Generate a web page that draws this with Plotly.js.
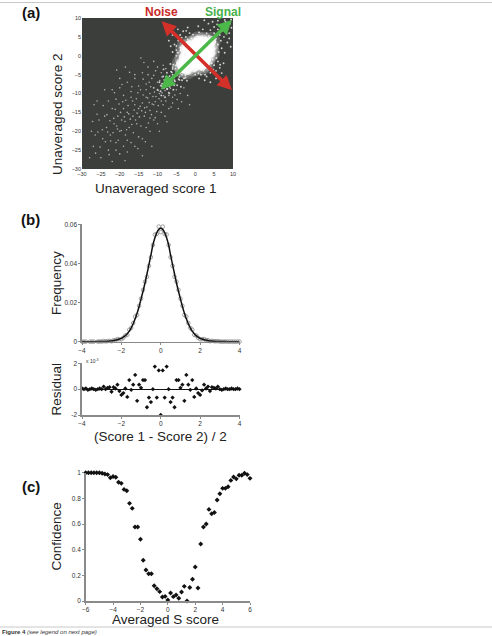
<!DOCTYPE html>
<html>
<head>
<meta charset="utf-8">
<script src="https://cdn.plot.ly/plotly-3.0.1.min.js"></script>
<style>
  html, body { margin: 0; padding: 0; background: #fff; }
  #fig { width: 492px; height: 636px; }
</style>
</head>
<body>
<div id="fig"></div>
<script>
// ---------- (a) unaveraged score pairs ----------
// dense centre of the cloud
const corePts = [
  [0,0],[1,0.5],[-1,-0.5],[0.5,1.5],[-0.5,-1.5],[2,1],[-2,-1],[1,2.5],[-1,-2.2],[2.5,2.5],
  [-1.5,1],[1.5,-1],[0,2],[0,-2],[2,0],[-2,0.3],[3,1.8],[1.8,3],[-2.5,-2],[-1.8,-2.6],
  [3.2,0],[0.2,3.3],[-3,-0.5],[-0.3,-3],[2.8,-1.5],[-1.5,2.8],[3.5,3],[2.2,3.8],[3.8,2.2],
  [-2.8,1.8],[1.7,-2.7],[0.8,-0.8],[-0.8,0.8],[1.2,1.2],[-1.2,-1.2],[0.4,-0.3],[-0.4,0.3],
  [2.4,-0.4],[-0.4,2.4],[4,0.8],[0.8,4],[-3.3,-2.8],[4.2,3.8],[-2,2],[2,-2.1],[3,3.2],
  [-2.9,-3.4],[0.6,2.9],[2.9,0.6],[1.4,3.4],[3.4,1.4],[-1,1.8],[1.8,-1],[-2.2,-3.8],[-3.8,-2.2]
];
// speckled halo around the centre
const haloPts = [
  [-4,-3],[-5,-4.5],[-3.5,-5],[-6,-5],[-5.5,-6.5],[-7,-6],[-6.5,-7.5],[-8,-7],[-7.5,-8.8],[-9,-8],
  [-4.5,-2],[-2,-4.5],[-6,-3.5],[-3.5,-6.5],[-7.5,-4.5],[-4.8,-7.8],[-8.5,-5.5],[-5.8,-9],[-9.5,-7],
  [-7,-9.8],[-3,-3.8],[-4.2,-5.6],[-5.2,-3.4],[-6.8,-8.2],[-8.2,-6.4],[-2.6,-5.8],[-5.8,-2.4],
  [-3.8,-8.2],[-8.4,-3.6],[-10,-9],[-9,-10.5],[-11,-8.5],[-8,-11],
  [-3,3.5],[-4.5,4],[-4,5.5],[-5.5,3],[-2.5,5],[-6,5.5],[-3.2,6.5],[-5,1.5],[-6.5,2.5],[-1.5,6],
  [-7,4],[-4.6,7],[-2,7.5],
  [3.5,-3],[4,-4.5],[5.5,-4],[3,-5.5],[5,-2.5],[5.5,-6],[6.5,-3.2],[1.5,-5],[2.5,-6.5],[6,-1.5],
  [4,-7],[7,-4.6],[7.5,-2],
  [4.5,5],[5.5,4.5],[5,6],[6.5,5.5],[6,7],[7,6.5],[7.5,8],[8.5,7],[8,9],[9.2,8.5],[4,6.8],[6.8,4],
  [5.8,8.3],[8.3,5.8],[9.5,9.6],[3.5,8.5],[8.5,3.5],[7,2],[2,7],[9,6],[6,9.3],[4.8,3],[3,4.8],
  [5.2,1.8],[1.8,5.2],[7.8,9.5],[9.6,7.4],
  [-3.8,-1],[-1,-3.8],[-2.5,-3.5],[-3.5,-2.5],[-4.5,-4],[-4,-4.5],[3.8,1],[1,3.8],[4.5,2.5],
  [2.5,4.5],[4.6,-1],[-1,4.6],[-3.5,0.5],[0.5,-3.5],[-2.2,3.5],[3.5,-2.2],
  [-4.2,-1.8],[-1.8,-4.2],[-5.2,-2.6],[-2.6,-5.2],[-6.2,-4.4],[-4.4,-6.2],[-6.8,-5.4],[-5.4,-6.8],
  [-7.6,-6.6],[-6.6,-7.6],[-3.4,-4.4],[-4.4,-3.4],[-5.6,-5.6],[-7.2,-7.2],[-8.6,-8.6],[-4.8,-5.2],
  [-6.2,-6],[-3,-6],[-6,-3],[-2.2,-6.6],[-6.6,-2.2],[-4,2.2],[2.2,-4],[-5,0],[0,-5],[-4.6,0.8],
  [0.8,-4.6],[-3.2,2.8],[2.8,-3.2],[-6,1],[1,-6],[4.4,-2],[-2,4.4],[5.6,-0.6],[-0.6,5.6],
  [4.8,-3.6],[-3.6,4.8],[5.2,3.6],[3.6,5.2],[6,3],[3,6],[6.2,1],[1,6.2],[4.2,4.2],[5.6,5.6],
  [7.2,7.2],[8.4,8.4],[6.4,8],[8,6.4],[7.6,5],[5,7.6],[4.4,1.6],[1.6,4.4],[-2.8,-2.8],[-3.6,-3.6],
  [-7.8,-5.6],[-5.6,-7.8],[-9.2,-9.4],[-8.8,-7.4],[-7.4,-8.8],[-6.4,-4.2],[-4.2,-6.4],[2.6,-5],
  [-5,2.6],[6.6,-2.4],[-2.4,6.6],[7.8,0.8],[0.8,7.8],[9,4.6],[4.6,9],[9.4,2.4],[2.4,9.4]
];
// sparse tail towards low scores
const tailPts = [
  [-9,-12],[-10,-7],[-11,-13],[-12,-10],[-12,-14.5],[-13,-11],[-13.5,-16],[-14,-12.5],[-14.5,-9],
  [-15,-14],[-15.5,-18],[-16,-13],[-16.5,-16],[-17,-11],[-17.5,-19],[-18,-15],[-18.5,-21],[-19,-14],
  [-19.5,-17],[-20,-20],[-20.5,-16],[-21,-23],[-21.5,-18],[-22,-14],[-22.5,-21],[-23,-25],[-23.5,-19],
  [-24,-16],[-24.5,-22],[-25,-27],[-26,-12],[-26.5,-21],[-27,-24],[-25.5,-17],
  [-10.5,-4],[-11.5,-6],[-12.5,-5],[-13,-7.5],[-14,-4.5],[-15,-8],[-16,-6],[-17,-9.5],[-18,-7],
  [-19,-10.5],[-20,-8.5],[-21,-11.5],[-22,-9],[-23,-12],
  [-7,-14],[-8,-16],[-9,-15],[-10,-18],[-11,-17],[-12,-20],[-13,-19],[-14,-22],[-15,-21.5],[-16,-24],
  [-17,-23],[-18,-25.5],[-19,-24],[-20,-26],[-21,-25],
  [-6,-11],[-7,-10.5],[-8.5,-13],[-9.5,-10],[-10.2,-14.8],[-11.8,-8.2],[-12.2,-12.4],[-13.4,-13.8],
  [-14.8,-16.2],[-15.6,-11.4],[-16.8,-18.2],[-17.8,-13.2],[-18.6,-17.4],[-19.6,-19.8],[-20.8,-18.6],
  [-21.8,-20.4],[-22.6,-17.2],[-23.8,-22.8],[-24.6,-19.6],[-25.2,-24.2],[-26.4,-25.8],
  [-5,-9],[-4,-10],[-3,-8.5],[-9,-4.5],[-10,-3],[-8.5,-2.5],[-2,-10.5],[-11,-1.5],[-6,-12.5],
  [-12.5,-3],[-13.6,-1.8],[-1.5,-13],[-4.5,-14],[-7.5,-17.5],[-9.5,-20],[-14,-26.5],[-11.5,-24],
  [-16,-5],[-18.5,-3],[-20,-6],[-24,-9],[-26,-15.5],[-27.5,-20],[-28,-27],[-22,-28],[-26.8,-13],
  [-12,-16.5],[-13,-9],[-14.2,-14.6],[-15.4,-15.2],[-16.2,-14.4],[-17.2,-16.8],[-18.2,-19.6],
  [-19.2,-12.2],[-20.4,-22.4],[-21.2,-14.2],[-9.8,-9.2],[-11.2,-10.8],[-10.6,-12.2],[-8.8,-9.8],
  [-7.8,-12],[-6.6,-8.6],[-5.6,-7.4],[-7.2,-5.8],[-8.2,-8.6],[-9.4,-6.6],[-6.4,-13.6],[-15.2,-24.6],
  [-23.4,-15.6],[-13.2,-22.8],
  [-8.4,-10.6],[-9.6,-11.4],[-10.8,-9.6],[-11.4,-12.8],[-12.6,-11.2],[-13.8,-10.4],[-12.8,-13.6],
  [-10.4,-10.8],[-9.2,-7.8],[-8,-9.2],[-7.4,-7.2],[-6.8,-10],[-11.6,-15.6],[-13.2,-15],[-14.6,-13.4],
  [-15.8,-17],[-16.6,-12],[-17.6,-15.4],[-18.8,-16.2],[-19.8,-15],[-20.6,-19.4],[-21.6,-16.6],
  [-22.4,-22.6],[-23.2,-20.2],[-9.8,-13.2],[-10.6,-16.4],[-12.4,-17.8],[-14.4,-18.6],[-16.4,-20.4],
  [-18,-22.4],[-11,-5.2],[-12.2,-7],[-13.8,-6.2],[-15.2,-9.8],[-16.8,-8.2],[-18.4,-11.8],[-20.2,-12.8],
  [-7.8,-3.4],[-8.8,-5.6],[-6.2,-6.6],[-5.4,-10.4],[-4.8,-11.6],[-3.6,-12.2],[-17.4,-4.4],[-19.4,-7.6],
  [-21.4,-9.8],[-24.4,-13.2],[-25.8,-20.2],[-22.8,-26.2],[-18.6,-27.8],[-27.2,-17.4],[-20.8,-3.8],
  [-14.4,-0.6]
];
// double-headed direction arrows: [start, end]
const noiseArrow  = [[-9.3, 9.5], [9.7, -9.1]];
const signalArrow = [[-9.5, -9.3], [9.7, 9.5]];
const scoreTicks = [-30, -25, -20, -15, -10, -5, 0, 5, 10];

// ---------- (b) distribution of (score1 - score2)/2 ----------
const halfDiff = [];             // bin centres -4 .. 4, step 0.1
for (let i = -40; i <= 40; i++) halfDiff.push(i / 10);
const fitFreq = [
  0.00001,0.00001,0.00001,0.00001,0.00002,0.00002,0.00003,0.00004,0.00005,0.00006,
  0.00008,0.0001,0.00015,0.0002,0.0003,0.0004,0.0006,0.0008,0.0010,0.0014,
  0.0017,0.0023,0.0031,0.0041,0.0054,0.0071,0.0092,0.0117,0.0146,0.0180,
  0.0219,0.0258,0.0300,0.0346,0.0394,0.0442,0.0494,0.0530,0.0557,0.0574,
  0.0580,
  0.0574,0.0557,0.0530,0.0494,0.0442,0.0394,0.0346,0.0300,0.0258,0.0219,
  0.0180,0.0146,0.0117,0.0092,0.0071,0.0054,0.0041,0.0031,0.0023,0.0017,
  0.0014,0.0010,0.0008,0.0006,0.0004,0.0003,0.0002,0.00015,0.0001,0.00008,
  0.00006,0.00005,0.00004,0.00003,0.00002,0.00002,0.00001,0.00001,0.00001,0.00001
];
// residuals, units of 1e-3
const residual = [
  0.05,0.0,0.05,-0.05,0.0,0.05,0.0,-0.05,0.0,0.05,
  0.0,0.2,0.0,0.1,0.15,-0.2,0.15,0.05,0.35,-0.15,
  -0.45,-0.3,0.05,-0.6,0.7,-0.05,0.35,1.1,-0.9,0.35,
  0.1,0.7,0.7,-1.4,-0.65,-1.0,0.0,1.75,-0.65,1.45,
  -2.0,
  1.45,-0.65,1.75,0.0,-1.0,-0.65,-1.4,0.7,0.7,0.1,
  0.35,-0.9,1.1,0.35,-0.05,0.7,-0.6,0.05,-0.3,-0.45,
  -0.1,0.35,0.05,0.2,-0.15,0.15,0.1,0.05,0.2,0.0,
  -0.05,0.0,0.05,0.0,0.0,0.05,0.0,0.0,0.05,0.0
];

// ---------- (c) confidence vs averaged S score ----------
const avgS = [];                 // -6 .. 6, step 0.2
for (let i = -30; i <= 30; i++) avgS.push(i / 5);
const confidence = [
  1.0,1.0,1.0,1.0,1.0,1.0,0.995,0.99,0.985,0.96,
  0.97,0.964,0.925,0.917,0.87,0.86,0.761,0.722,0.577,0.577,
  0.481,0.317,0.242,0.213,0.213,0.119,0.096,0.073,0.031,0.036,
  0.008,
  0.062,0.034,0.047,0.021,0.07,0.114,0.0,0.105,0.169,0.265,
  0.101,0.444,0.577,0.60,0.714,0.68,0.69,0.787,0.836,0.878,
  0.878,0.891,0.94,0.967,0.952,0.98,0.98,0.995,0.985,0.956
];

const FONT = 'Liberation Sans, Arial, Helvetica, sans-serif';
const W = 492, H = 636;
const px = v => v / W;          // pixel -> paper x
const py = v => 1 - v / H;      // pixel -> paper y

const xs = pts => pts.map(p => p[0]);
const ys = pts => pts.map(p => p[1]);

const observed = fitFreq.map((f, i) => f + residual[i] * 1e-3);

const traces = [
  { type: 'scatter', mode: 'markers', xaxis: 'x', yaxis: 'y',
    x: xs(tailPts), y: ys(tailPts),
    marker: { color: '#bdbdbd', size: 1.6, opacity: 0.9 }, hoverinfo: 'skip' },
  { type: 'scatter', mode: 'markers', xaxis: 'x', yaxis: 'y',
    x: xs(haloPts), y: ys(haloPts),
    marker: { color: '#e0e0e0', size: 1.9, opacity: 0.9 }, hoverinfo: 'skip' },
  // soft glow, then bright centre, from the same core points
  { type: 'scatter', mode: 'markers', xaxis: 'x', yaxis: 'y',
    x: xs(corePts), y: ys(corePts),
    marker: { color: '#ffffff', size: 19, opacity: 0.2 }, hoverinfo: 'skip' },
  { type: 'scatter', mode: 'markers', xaxis: 'x', yaxis: 'y',
    x: xs(corePts), y: ys(corePts),
    marker: { color: '#ffffff', size: 10, opacity: 0.8 }, hoverinfo: 'skip' },

  { type: 'scatter', mode: 'markers', xaxis: 'x2', yaxis: 'y2',
    x: halfDiff, y: observed, cliponaxis: false,
    marker: { symbol: 'circle-open', color: '#8a8a8a', size: 3.6, line: { width: 0.8 } } },
  { type: 'scatter', mode: 'lines', xaxis: 'x2', yaxis: 'y2',
    x: halfDiff, y: fitFreq, line: { color: '#111', width: 1.5, shape: 'spline' } },

  { type: 'scatter', mode: 'markers', xaxis: 'x3', yaxis: 'y3',
    x: halfDiff, y: residual.map(r => r * 1e-3), cliponaxis: false,
    marker: { symbol: 'diamond', color: '#111', size: 3.3 } },

  { type: 'scatter', mode: 'markers', xaxis: 'x4', yaxis: 'y4',
    x: avgS, y: confidence, cliponaxis: false,
    marker: { symbol: 'diamond', color: '#111', size: 3.8 } }
];

const tickFontSmall = { family: FONT, size: 5.5, color: '#333' };
const tickFont = { family: FONT, size: 6.5, color: '#333' };

const plainAxis = {
  showgrid: false, zeroline: false, fixedrange: true
};
const lineAxis = Object.assign({}, plainAxis, {
  showline: true, linecolor: '#8a8a8a', linewidth: 1.6,
  ticks: 'outside', ticklen: 2, tickcolor: '#8a8a8a', tickwidth: 1, tickfont: tickFont
});

const layout = {
  width: W, height: H,
  margin: { l: 0, r: 0, t: 0, b: 0 },
  paper_bgcolor: '#fff', plot_bgcolor: 'rgba(0,0,0,0)',
  showlegend: false,
  font: { family: FONT, color: '#222' },

  xaxis: Object.assign({}, plainAxis, {
    domain: [px(82), px(233)], anchor: 'y', range: [-30, 10],
    tickvals: scoreTicks, ticks: '', tickfont: tickFontSmall
  }),
  yaxis: Object.assign({}, plainAxis, {
    domain: [py(169), py(18)], anchor: 'x', range: [-30, 10],
    tickvals: scoreTicks, ticks: '', tickfont: tickFontSmall
  }),

  xaxis2: Object.assign({}, lineAxis, {
    domain: [px(82), px(239.5)], anchor: 'y2', range: [-4, 4],
    tickvals: [-4, -2, 0, 2, 4]
  }),
  yaxis2: Object.assign({}, lineAxis, {
    domain: [py(341.7), py(224.3)], anchor: 'x2', range: [0, 0.06],
    tickvals: [0, 0.02, 0.04, 0.06], ticktext: ['0', '0.02', '0.04', '0.06']
  }),

  xaxis3: Object.assign({}, lineAxis, {
    domain: [px(82), px(239.5)], anchor: 'y3', range: [-4, 4],
    tickvals: [-4, -2, 0, 2, 4]
  }),
  yaxis3: Object.assign({}, lineAxis, {
    domain: [py(415), py(363.3)], anchor: 'x3', range: [-0.002, 0.002],
    tickvals: [-0.002, 0, 0.002], ticktext: ['-2', '0', '2'],
    zeroline: true, zerolinecolor: '#111', zerolinewidth: 1.2
  }),

  xaxis4: Object.assign({}, lineAxis, {
    domain: [px(85.7), px(250)], anchor: 'y4', range: [-6, 6],
    tickvals: [-6, -4, -2, 0, 2, 4, 6]
  }),
  yaxis4: Object.assign({}, lineAxis, {
    domain: [py(601), py(472.7)], anchor: 'x4', range: [0, 1],
    tickvals: [0, 0.2, 0.4, 0.6, 0.8, 1], ticktext: ['0', '0.2', '0.4', '0.6', '0.8', '1']
  }),

  shapes: [
    // dark plotting field of panel (a)
    { type: 'rect', xref: 'x domain', yref: 'y domain', x0: 0, x1: 1, y0: 0, y1: 1,
      fillcolor: '#3b3e3b', line: { width: 0 }, layer: 'below' },
    // page rules
    { type: 'line', xref: 'paper', yref: 'paper', x0: 0, x1: 1, y0: py(2.5), y1: py(2.5),
      line: { color: '#c8c8c8', width: 1 } },
    { type: 'line', xref: 'paper', yref: 'paper', x0: 0, x1: 1, y0: py(627), y1: py(627),
      line: { color: '#c8c8c8', width: 1 } }
  ],

  annotations: []
};

const A = layout.annotations;
function label(text, x, y, opts) {
  A.push(Object.assign({
    text: text, xref: 'paper', yref: 'paper', x: px(x), y: py(y),
    xanchor: 'center', yanchor: 'middle', showarrow: false,
    font: { family: FONT, size: 13.5, color: '#222' }
  }, opts || {}));
}

// arrows in panel (a)
function dblArrow(pair, color) {
  A.push({
    xref: 'x', yref: 'y', axref: 'x', ayref: 'y',
    x: pair[1][0], y: pair[1][1], ax: pair[0][0], ay: pair[0][1],
    text: '', showarrow: true, arrowside: 'end+start',
    arrowhead: 2, startarrowhead: 2, arrowsize: 0.8, startarrowsize: 0.8,
    arrowwidth: 3.6, arrowcolor: color, standoff: 0, startstandoff: 0
  });
}
dblArrow(noiseArrow, '#d4302a');
dblArrow(signalArrow, '#4cb84a');

label('<b>Noise</b>', 161.5, 11.5, { font: { family: FONT, size: 12, color: '#c82a28' } });
label('<b>Signal</b>', 223, 11.5, { font: { family: FONT, size: 12, color: '#48b04c' } });

// panel letters
label('<b>(a)</b>', 31, 12.5, { font: { family: FONT, size: 15, color: '#111' } });
label('<b>(b)</b>', 31, 220, { font: { family: FONT, size: 15, color: '#111' } });
label('<b>(c)</b>', 31, 486, { font: { family: FONT, size: 15, color: '#111' } });

// axis titles
label('Unaveraged score 2', 57.5, 114.5, { textangle: -90 });
label('Unaveraged score 1', 156, 188.5);
label('Frequency', 56, 283, { textangle: -90 });
label('Residual', 56, 389.5, { textangle: -90 });
label('(Score 1 - Score 2) / 2', 160.5, 436);
label('Confidence', 56, 536.5, { textangle: -90 });
label('Averaged S score', 165, 619.5);

// exponent of the residual axis
label('x 10<sup>-3</sup>', 84, 360.5, { xanchor: 'left', font: { family: FONT, size: 5, color: '#333' } });

// page footer
label('<b>Figure 4</b> <i>(see legend on next page)</i>', 0, 631.5,
  { xanchor: 'left', font: { family: FONT, size: 6, color: '#333' } });

Plotly.newPlot('fig', traces, layout, { staticPlot: true, displayModeBar: false });
</script>
</body>
</html>
